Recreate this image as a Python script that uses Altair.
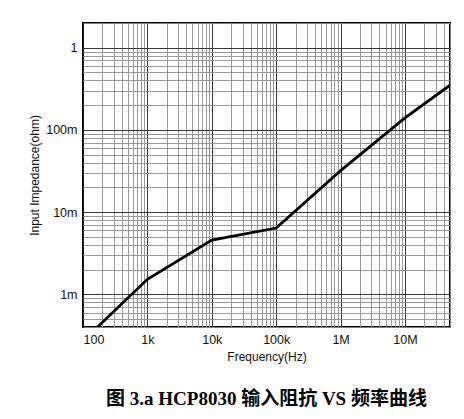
import altair as alt
import pandas as pd

# values
freq_hz = [168, 1e3, 1e4, 1e5, 1e6, 1e7, 5e7]
impedance_ohm = [4.0e-4, 1.52e-3, 4.56e-3, 6.4e-3, 3.2e-2, 1.4e-1, 3.5e-1]

x_ticks = [m * 10 ** e for e in range(2, 8) for m in range(1, 10)]
y_ticks = [m * 10.0 ** e for e in range(-4, 1) for m in range(1, 10)]

df = pd.DataFrame({"freq": freq_hz, "imp": impedance_ohm})

is_decade = "abs(log(datum.value)/LN10 - round(log(datum.value)/LN10)) < 1e-6"
grid_color = {"condition": {"test": is_decade, "value": "#222"}, "value": "#8f8f8f"}
label_expr = f"({is_decade}) ? format(datum.value, '~s') : ''"

chart = alt.Chart(df).mark_line(color="black", strokeWidth=2.8, clip=True).encode(
    x=alt.X("freq:Q",
            scale=alt.Scale(type="log", domain=[100, 5e7], nice=False),
            title="Frequency(Hz)",
            axis=alt.Axis(values=x_ticks, labelExpr=label_expr, gridColor=grid_color,
                          gridWidth=0.9, tickSize=0, labelPadding=6, domain=False,
                          labelFontSize=12.5, titleFontSize=12, titlePadding=6,
                          labelFont="Liberation Sans", titleFont="Liberation Sans",
                          titleFontWeight="normal", labelColor="#111", titleColor="#111")),
    y=alt.Y("imp:Q",
            scale=alt.Scale(type="log", domain=[4e-4, 2], nice=False),
            title="Input Impedance(ohm)",
            axis=alt.Axis(values=y_ticks, labelExpr=label_expr, gridColor=grid_color,
                          gridWidth=0.9, tickSize=0, labelPadding=6, domain=False,
                          labelFontSize=12.5, titleFontSize=12, titlePadding=4,
                          labelFont="Liberation Sans", titleFont="Liberation Sans",
                          titleFontWeight="normal", labelColor="#111", titleColor="#111")),
).properties(
    width=367,
    height=304,
    autosize=alt.AutoSizeParams(type="none"),
    padding={"left": 75, "top": 15, "right": 6, "bottom": 84},
    title=alt.TitleParams(
        "图 3.a HCP8030 输入阻抗 VS 频率曲线",
        orient="bottom", anchor="middle", offset=27,
        font="Liberation Serif, Noto Sans CJK SC", fontSize=19, fontWeight="bold",
        color="black",
    ),
).configure_view(
    stroke="black", strokeWidth=2
)

chart.save("out.html", embed_options={"renderer": "svg", "actions": False})
